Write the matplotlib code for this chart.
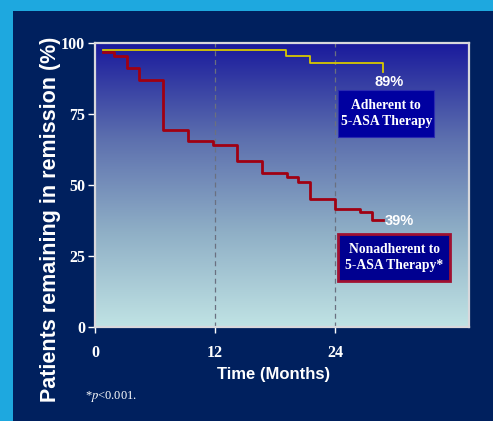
import matplotlib
matplotlib.use("Agg")
import matplotlib.pyplot as plt
import numpy as np
from matplotlib.colors import LinearSegmentedColormap
from matplotlib.patches import Rectangle

# data (months, % in remission)
adherent_t = [0.8, 19.1, 21.5, 28.8]
adherent_y = [97.8, 95.6, 92.9, 89.7]
nonadh_t = [0.83, 1.93, 3.17, 4.43, 6.83, 9.33, 11.77, 14.17, 16.67,
            19.17, 20.27, 21.5, 24.0, 26.43, 27.67, 28.77]
nonadh_y = [96.8, 95.6, 91.2, 87.2, 69.5, 65.6, 64.0, 58.6, 54.2,
            52.8, 51.2, 45.1, 41.5, 40.3, 37.7, 37.7]
x_ticks = [0, 12, 24]
y_ticks = [0, 25, 50, 75, 100]
adherent_end = "89%"
nonadh_end = "39%"

plt.rcParams["mathtext.fontset"] = "stix"

navy = "#00205E"
fig = plt.figure(figsize=(4.93, 4.21), dpi=100)
fig.patch.set_facecolor("#1EA8DF")
fig.patches.append(Rectangle((13 / 493, 0), 1, 1 - 11 / 421, transform=fig.transFigure,
                             facecolor=navy, edgecolor="none", zorder=-10))

ax = fig.add_axes([95 / 493, 1 - 326.7 / 421, 374.3 / 493, 283.4 / 421])
ax.set_zorder(2)
ax.set_xlim(0, 37.4)
ax.set_ylim(0, 100)

# gradient background of the plot area
cmap = LinearSegmentedColormap.from_list("bg", ["#C0E3E4", "#8FAFC6", "#5C6FAE", "#1A1A9C"])
grad = np.linspace(0, 1, 256).reshape(-1, 1)
ax.imshow(grad, cmap=cmap, origin="lower", extent=[0, 37.4, 0, 100], aspect="auto", zorder=0)

for s in ax.spines.values():
    s.set_color("#D8D8DC")
    s.set_linewidth(1.6)

for xv in [12, 24]:
    ax.axvline(xv, color="#6A7080", lw=0.9, ls=(0, (4, 3)), zorder=1)

ax.step(adherent_t, adherent_y, where="post", color="#D8C800", lw=1.3, zorder=3)
ax.step(nonadh_t, nonadh_y, where="post", color="#A00012", lw=2.0, zorder=2)

ax.text(29.4, 86.3, adherent_end, color="white", fontsize=10.5, fontweight="bold",
        family="Liberation Sans", ha="center", va="center")
ax.text(28.9, 37.4, nonadh_end, color="white", fontsize=10.5, fontweight="bold",
        family="Liberation Sans", ha="left", va="center")

ax.add_patch(Rectangle((24.3, 67.1), 9.6, 16.5, facecolor="#0000A0",
                       edgecolor="#2A2AB0", lw=0.8, zorder=4))
ax.text(29.1, 75.3, "Adherent to\n5-ASA Therapy", color="white", fontsize=9.8,
        fontweight="bold", family="Liberation Serif", ha="center", va="center",
        linespacing=1.3, zorder=5)
ax.add_patch(Rectangle((24.3, 16.2), 11.2, 16.5, facecolor="#000090",
                       edgecolor="#A01030", lw=2, zorder=4))
ax.text(29.9, 24.5, "Nonadherent to\n5-ASA Therapy*", color="white", fontsize=9.8,
        fontweight="bold", family="Liberation Serif", ha="center", va="center",
        linespacing=1.3, zorder=5)

ax.set_xticks(x_ticks)
ax.set_yticks(y_ticks)
ax.tick_params(axis="x", colors="white", length=4, width=1, pad=9)
ax.tick_params(axis="y", colors="white", length=5, width=1, pad=2)
for lab in ax.get_xticklabels() + ax.get_yticklabels():
    lab.set_family("Liberation Serif")
    lab.set_fontweight("bold")
    lab.set_fontsize(11.5)

fig.text(274 / 493, 1 - 375 / 421, "Time (Months)", color="white", fontsize=12,
         fontweight="bold", family="Liberation Sans", ha="center", va="center")
fig.text(51 / 493, 1 - 219 / 421, "Patients remaining in remission (%)", color="white",
         fontsize=15.5, fontweight="bold", family="Liberation Sans", rotation=90,
         ha="center", va="center")
fig.text(85 / 493, 1 - 397 / 421, r"*$p$<0.001.", color="white", fontsize=9,
         family="Liberation Serif", ha="left", va="center")

fig.savefig("out.png", dpi=100, facecolor=fig.get_facecolor())
